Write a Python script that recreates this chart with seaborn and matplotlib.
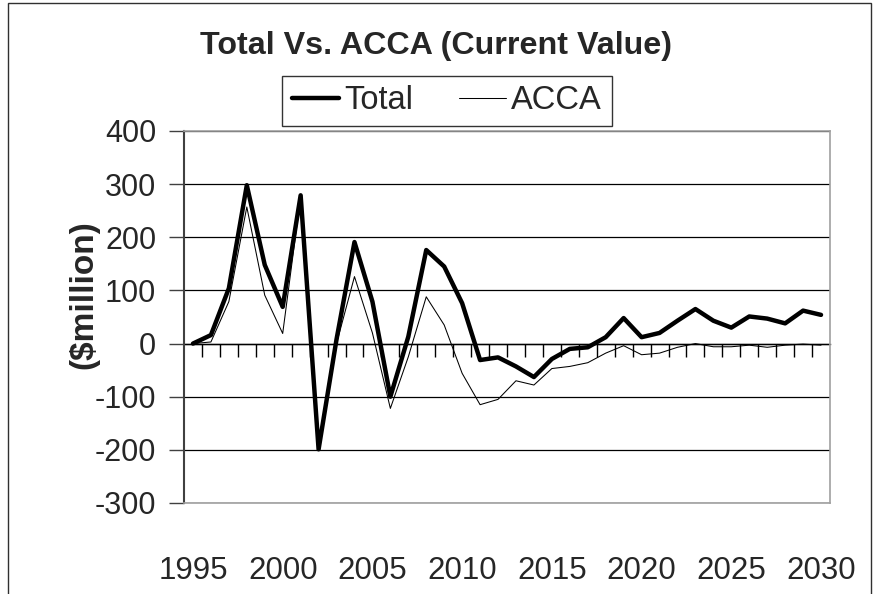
import matplotlib
matplotlib.use("Agg")
import matplotlib.pyplot as plt
import seaborn as sns
import pandas as pd
import numpy as np
from matplotlib.patches import Rectangle

years = list(range(1995, 2031))
total = [0, 16, 104, 298, 148, 69, 279, -199, 8, 191, 79, -100, 13, 176, 145, 76,
         -31, -26, -43, -63, -29, -10, -7, 12, 48, 12, 20, 43, 65, 43, 30, 51, 47, 38, 62, 54]
acca = [0, 3, 79, 257, 91, 19, 276, -195, 0, 126, 20, -122, -25, 88, 35, -56,
        -115, -105, -70, -78, -47, -43, -36, -18, -4, -21, -18, -7, 0, -6, -6, -3, -7, -3, -1, -3]
series_names = ["Total", "ACCA"]
ytick_vals = [-300, -200, -100, 0, 100, 200, 300, 400]
xtick_years = [1995, 2000, 2005, 2010, 2015, 2020, 2025, 2030]
title = "Total Vs. ACCA (Current Value)"
ylabel = "($million)"

df = pd.DataFrame({"year": years * 2,
                   "value": total + acca,
                   "series": ["Total"] * len(years) + ["ACCA"] * len(years)})

sns.set_style("white")
plt.rcParams['font.family'] = ['Liberation Sans', 'DejaVu Sans']

W, H = 874, 594
fig = plt.figure(figsize=(W / 100, H / 100), dpi=100)
L, R, T, B = 184, 830, 131, 503
ax = fig.add_axes([L / W, 1 - B / H, (R - L) / W, (B - T) / H])

sns.lineplot(data=df[df.series == "Total"], x="year", y="value", ax=ax,
             color="black", linewidth=3.2, label="Total")
sns.lineplot(data=df[df.series == "ACCA"], x="year", y="value", ax=ax,
             color="black", linewidth=0.75, label="ACCA")

ax.set_xlim(1994.5, 2030.5)
ax.set_ylim(-300, 400)
ax.set_yticks(ytick_vals)
ax.set_yticklabels([str(v) for v in ytick_vals], fontsize=22)
ax.set_xticks(xtick_years)
ax.set_xticklabels([str(v) for v in xtick_years], fontsize=22.5)
ax.tick_params(axis='x', length=0, pad=38)
ax.tick_params(axis='y', length=11, width=1, color='#404040', direction='out', pad=9, left=True)
ax.set_xlabel("")
ax.set_ylabel("")

ax.grid(axis='y', color='black', linewidth=0.9)
ax.set_axisbelow(True)
for s in ['top', 'right', 'bottom']:
    ax.spines[s].set_color('#a0a0a0')
    ax.spines[s].set_linewidth(1.2)
ax.spines['left'].set_color('#404040')
ax.spines['left'].set_linewidth(1.5)

# category axis at y = 0 with tick marks between categories
sec = ax.secondary_xaxis(300 / 700)
sec.spines['bottom'].set_color('black')
sec.spines['bottom'].set_linewidth(1.0)
sec.set_xticks(np.arange(1995.5, 2030.5, 1.0))
sec.set_xticklabels([])
sec.tick_params(axis='x', length=9, width=1, color='black', direction='out')

leg = ax.legend(loc='center', bbox_to_anchor=(447 / W, 1 - 101 / H),
                bbox_transform=fig.transFigure, ncol=2, fontsize=23.5,
                frameon=True, fancybox=False, edgecolor='black',
                handlelength=1.45, handletextpad=0.15, columnspacing=1.4,
                borderpad=0.3, borderaxespad=0)
leg.get_frame().set_linewidth(1.0)

fig.text(436 / W, 1 - 46 / H, title, ha='center', va='center',
         fontsize=23.2, fontweight='bold')
fig.text(84 / W, 1 - 295 / H, ylabel, ha='center', va='center',
         rotation=90, fontsize=24, fontweight='bold')

fig.patches.append(Rectangle((8 / W, -0.05), (871 - 8) / W, 1.05 - 3 / H,
                             transform=fig.transFigure, fill=False,
                             edgecolor='#303030', linewidth=1.0))

fig.savefig("out.png", dpi=100)
